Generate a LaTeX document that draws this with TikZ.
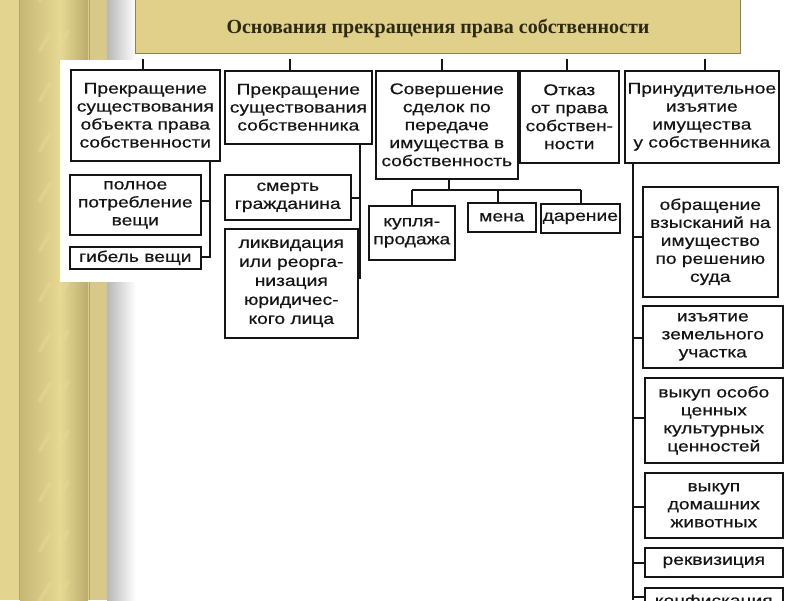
\documentclass[tikz,border=0pt]{standalone}
\usepackage{fontspec}
\newfontfamily\scanfont[FakeStretch=1.24,FakeBold=0.5]{Liberation Sans}
\newfontfamily\titlefont{Liberation Serif}
\definecolor{ink}{HTML}{151515}
\definecolor{goldA}{HTML}{E3D490}
\definecolor{goldB}{HTML}{C7B776}
\definecolor{goldC}{HTML}{E6D993}
\definecolor{goldD}{HTML}{BCAC6C}
\definecolor{goldLine}{HTML}{B3A365}
\definecolor{titlefill}{HTML}{E0D08A}
\definecolor{titleborder}{HTML}{8E8152}
\definecolor{titletext}{HTML}{2C2A12}
\tikzset{
  bx/.style={draw=ink, line width=1.6pt, fill=white, inner sep=1pt, align=center,
    anchor=north west, text=ink, font=\scanfont\fontsize{15.5}{18}\selectfont},
  ln/.style={draw=ink, line width=1.3pt},
  streak/.style={line width=4pt, draw=goldC, opacity=0.5, line cap=round}
}
\begin{document}
\begin{tikzpicture}[x=1pt,y=-1pt]
\useasboundingbox (0,0) rectangle (800,600);
\clip (0,0) rectangle (800,600);
\fill[white] (0,0) rectangle (800,600);
% decorative gold strip
\fill[goldA] (0,0) rectangle (107,600);
\shade[left color=goldB, right color=goldC] (20,0) rectangle (60,600);
\shade[left color=goldC, right color=goldD] (60,0) rectangle (88,600);
\fill[goldA!95!black] (90,0) rectangle (107,600);
\draw[goldLine, line width=1pt] (19,0) -- (19,600);
\draw[goldLine, line width=1pt] (89,0) -- (89,600);
\foreach \yy in {-20,30,...,620} {
  \draw[streak] (40,\yy+20) -- (50,\yy+4);
  \draw[streak] (58,\yy+18) -- (68,\yy+2);
}
\shade[left color=black!28, right color=white] (107,0) rectangle (136,600);
% white scan area
\fill[white] (60,60) rectangle (800,282);
% title
\node[draw=titleborder, line width=1.2pt, fill=titlefill, minimum width=605pt, minimum height=54pt,
  anchor=north west, inner sep=0pt] (title) at (135,-1) {};
\node[font=\titlefont\bfseries\fontsize{20}{22}\selectfont, text=titletext] (tt) at (438,28)
  {Основания прекращения права собственности};
% main boxes
\node[bx, minimum width=149pt, minimum height=91pt] (b1) at (70,69)
  {Прекращение\\существования\\объекта права\\собственности};
\node[bx, minimum width=147pt, minimum height=73pt] (b2) at (224,70)
  {Прекращение\\существования\\собственника};
\node[bx, minimum width=142pt, minimum height=108pt] (b3) at (375,70)
  {Совершение\\сделок по\\передаче\\имущества в\\собственность};
\node[bx, minimum width=99pt, minimum height=92pt] (b4) at (519,70)
  {Отказ\\от права\\собствен-\\ности};
\node[bx, minimum width=154pt, minimum height=92pt] (b5) at (624,70)
  {Принудительное\\изъятие\\имущества\\у собственника};
% sub boxes
\node[bx, minimum width=131pt, minimum height=60pt] (s11) at (69,174)
  {полное\\потребление\\вещи};
\node[bx, minimum width=131pt, minimum height=22pt] (s12) at (69,246)
  {гибель вещи};
\node[bx, minimum width=126pt, minimum height=45pt] (s21) at (224,174)
  {смерть\\гражданина};
\node[bx, minimum width=133pt, minimum height=109pt,
  font=\scanfont\fontsize{15.5}{19}\selectfont] (s22) at (224,228)
  {ликвидация\\или реорга-\\низация\\юридичес-\\кого лица};
\node[bx, minimum width=86pt, minimum height=54pt] (s31) at (368,205)
  {купля-\\продажа};
\node[bx, minimum width=68pt, minimum height=29pt] (s32) at (467,202)
  {мена};
\node[bx, minimum width=79pt, minimum height=29pt] (s33) at (540,203)
  {дарение};
\node[bx, minimum width=135pt, minimum height=110pt] (s51) at (642,186)
  {обращение\\взысканий на\\имущество\\по решению\\суда};
\node[bx, minimum width=140pt, minimum height=62pt] (s52) at (642,305)
  {изъятие\\земельного\\участка};
\node[bx, minimum width=138pt, minimum height=85pt] (s53) at (644,377)
  {выкуп особо\\ценных\\культурных\\ценностей};
\node[bx, minimum width=138pt, minimum height=65pt] (s54) at (644,472)
  {выкуп\\домашних\\животных};
\node[bx, minimum width=138pt, minimum height=29pt] (s55) at (644,547)
  {реквизиция};
\node[bx, minimum width=138pt, minimum height=28pt] (s56) at (644,587)
  {конфискация};
% stubs from title
\foreach \xx/\bb in {143/b1,290/b2,442/b3,567/b4,705/b5} {
  \coordinate (t\bb) at (\xx,59);
  \draw[ln] (t\bb) -- (t\bb |- \bb.north);
}
% branch 1
\coordinate (v1) at (210,160);
\draw[ln] (v1) -- (210,257) -- (s12.east |- 0,257);
\draw[ln] (s11.east |- 0,201) -- (210,201);
% branch 2
\coordinate (v2) at (360,143);
\draw[ln] (v2) -- (360,278) -- (s22.east |- 0,278);
\draw[ln] (s21.east |- 0,198) -- (360,198);
% branch 3
\coordinate (v3) at (449,190);
\draw[ln] (v3 |- b3.south) -- (v3);
\draw[ln] (412,190) -- (581,190);
\draw[ln] (412,190) -- (412,190 |- s31.north);
\draw[ln] (498,190) -- (498,190 |- s32.north);
\draw[ln] (581,190) -- (581,190 |- s33.north);
% branch 5
\coordinate (v5) at (633,162);
\draw[ln] (v5) -- (633,600);
\foreach \nn/\yy in {s51/237,s52/338,s53/418,s54/507,s55/563,s56/597} {
  \draw[ln] (633,\yy) -- (\nn.west |- 0,\yy);
}
\end{tikzpicture}
\end{document}
